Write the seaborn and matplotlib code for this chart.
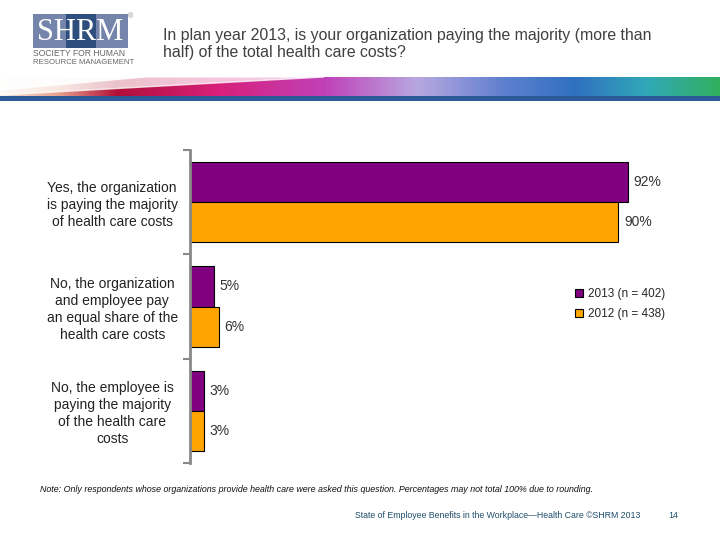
import numpy as np
import pandas as pd
import matplotlib.pyplot as plt
import seaborn as sns
from matplotlib.colors import LinearSegmentedColormap
from matplotlib.patches import Rectangle

# Data
categories = [
    "Yes, the organization\nis paying the majority\nof health care costs",
    "No, the organization\nand employee pay\nan equal share of the\nhealth care costs",
    "No, the employee is\npaying the majority\nof the health care\ncosts",
]
years = ["2013 (n = 402)", "2012 (n = 438)"]
values_2013 = [92, 5, 3]
values_2012 = [90, 6, 3]

colors = ["#800080", "#FFA500"]

rows = []
for cat, v13, v12 in zip(categories, values_2013, values_2012):
    rows.append({"category": cat, "year": years[0], "pct": v13})
    rows.append({"category": cat, "year": years[1], "pct": v12})
df = pd.DataFrame(rows)

sns.set_style("white")
plt.rcParams["font.family"] = ["Liberation Sans", "DejaVu Sans"]

fig = plt.figure(figsize=(7.2, 5.4), dpi=100)

# Banner gradient
band_ax = fig.add_axes([0, 1 - 97 / 540, 1, 20 / 540])
band_cmap = LinearSegmentedColormap.from_list("band", [
    (0.0, "#F6E6DA"), (0.08, "#E8A08C"), (0.16, "#B01038"), (0.3, "#D8207A"),
    (0.45, "#C040B8"), (0.58, "#B8A8E0"), (0.7, "#6080D0"), (0.8, "#3070C0"),
    (0.9, "#30A8B8"), (1.0, "#30B060"),
])
grad = np.linspace(0, 1, 400)[None, :]
band_ax.imshow(grad, aspect="auto", cmap=band_cmap, extent=[0, 1, 0, 1])
# taper the left side of the band (white wedge)
band_ax.fill([0, 0.45, 0], [1, 1, 0.1], color="white", alpha=0.75)
band_ax.fill([0, 0.2, 0], [1, 1, 0.35], color="white", alpha=0.9)
band_ax.set_xlim(0, 1)
band_ax.set_ylim(0, 1)
band_ax.axis("off")
fig.add_artist(Rectangle((0, 1 - 101 / 540), 1, 5 / 540, transform=fig.transFigure,
                         color="#2A5A9A", lw=0))

# Logo
fig.add_artist(Rectangle((33 / 720, 1 - 48 / 540), 95 / 720, 34 / 540,
                         transform=fig.transFigure, color="#7584AA", lw=0))
fig.add_artist(Rectangle((66 / 720, 1 - 48 / 540), 30 / 720, 34 / 540,
                         transform=fig.transFigure, color="#2E4E7E", lw=0))
fig.text(80.5 / 720, 1 - 32 / 540, "SHRM", color="white", fontsize=22,
         family="Liberation Serif", ha="center", va="center")
fig.text(131 / 720, 1 - 17 / 540, "®", color="#888888", fontsize=5, ha="center", va="center")
fig.text(33 / 720, 1 - 54 / 540, "SOCIETY FOR HUMAN", color="#666666", fontsize=6.2,
         ha="left", va="center")
fig.text(33 / 720, 1 - 63 / 540, "RESOURCE MANAGEMENT", color="#666666", fontsize=5.6,
         ha="left", va="center")

# Title
fig.text(163 / 720, 1 - 28 / 540,
         "In plan year 2013, is your organization paying the majority (more than\n"
         "half) of the total health care costs?",
         fontsize=11.4, color="#404040", ha="left", va="top", linespacing=1.15)

# Chart
ax = fig.add_axes([190 / 720, 1 - 463 / 540, 476 / 720, 313 / 540])
sns.barplot(data=df, y="category", x="pct", hue="year", hue_order=years,
            palette=colors, saturation=1, orient="h", width=0.77, edgecolor="black",
            linewidth=0.8, ax=ax)
for cont, vals in zip(ax.containers, [values_2013, values_2012]):
    ax.bar_label(cont, labels=[f"{v}%" for v in vals], padding=4,
                 fontsize=10, color="#333333")

ax.set_xlim(0, 100)
ax.set_ylim(2.5, -0.5)
ax.set_xlabel("")
ax.set_ylabel("")
ax.set_xticks([])
ax.set_yticks(range(len(categories)))
ax.set_yticklabels(categories, ha="center", fontsize=10, color="#222222")
for lab in ax.get_yticklabels():
    lab.set_multialignment("center")
    lab.set_linespacing(1.28)
ax.set_yticks([-0.5, 0.5, 1.5, 2.5], minor=True)
ax.tick_params(axis="y", which="major", length=0, pad=56)
ax.tick_params(axis="y", which="minor", length=5, width=1.5, color="#888888", left=True)
for s in ["top", "right", "bottom"]:
    ax.spines[s].set_visible(False)
ax.spines["left"].set_color("#888888")
ax.spines["left"].set_linewidth(2)

ax.legend(loc="center left", bbox_to_anchor=(564 / 720, 1 - 304 / 540),
          bbox_transform=fig.transFigure, frameon=False, fontsize=8.5,
          handlelength=0.7, handleheight=0.7, handletextpad=0.4, labelspacing=0.7)

# Footer
fig.text(40 / 720, 1 - 490 / 540,
         "Note: Only respondents whose organizations provide health care were asked this question. "
         "Percentages may not total 100% due to rounding.",
         fontsize=6.4, style="italic", color="#111111", ha="left", va="center")
fig.text(355 / 720, 1 - 515 / 540,
         "State of Employee Benefits in the Workplace\u2014Health Care \u00a9SHRM 2013",
         fontsize=6.3, color="#1F4E6B", ha="left", va="center")
fig.text(668 / 720, 1 - 515 / 540, "14", fontsize=6.5, color="#1F4E6B", ha="left", va="center")

fig.savefig("out.png", dpi=100)
